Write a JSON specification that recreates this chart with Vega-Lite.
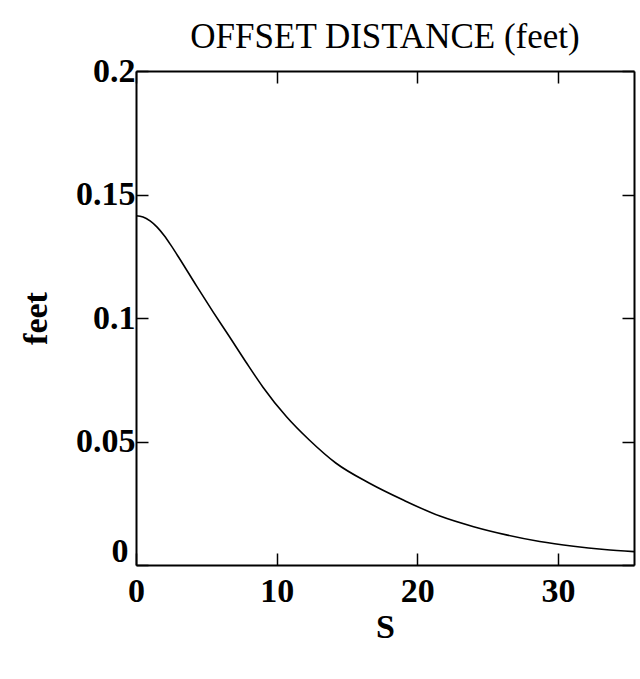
{
  "$schema": "https://vega.github.io/schema/vega-lite/v6.json",
  "width": 498,
  "height": 494,
  "autosize": "none",
  "padding": {"left": 136, "top": 71, "right": 6, "bottom": 114},
  "background": "white",
  "title": {"text": "OFFSET DISTANCE (feet)", "font": "Liberation Serif", "fontSize": 35, "fontWeight": "normal", "color": "black", "anchor": "middle", "offset": -1},
  "config": {"view": {"stroke": null}},
  "data": {"values": [
    {"s": 0, "v": 0.1414},
    {"s": 0.5, "v": 0.1409},
    {"s": 1.0, "v": 0.1393},
    {"s": 1.5, "v": 0.1368},
    {"s": 2.0, "v": 0.1334},
    {"s": 2.5, "v": 0.1293},
    {"s": 3.1, "v": 0.1240},
    {"s": 4.3, "v": 0.1130},
    {"s": 5.5, "v": 0.1023},
    {"s": 6.6, "v": 0.0928},
    {"s": 7.8, "v": 0.0823},
    {"s": 9.0, "v": 0.0722},
    {"s": 10.7, "v": 0.0600},
    {"s": 12.3, "v": 0.0507},
    {"s": 14.2, "v": 0.0413},
    {"s": 16.6, "v": 0.0331},
    {"s": 19.0, "v": 0.0263},
    {"s": 21.6, "v": 0.0198},
    {"s": 24.0, "v": 0.0155},
    {"s": 26.4, "v": 0.0121},
    {"s": 28.7, "v": 0.0095},
    {"s": 31.1, "v": 0.0076},
    {"s": 33.3, "v": 0.0063},
    {"s": 35.4, "v": 0.0054}
  ]},
  "layer": [
    {
      "mark": {"type": "line", "color": "black", "strokeWidth": 1.6, "interpolate": "monotone"},
      "encoding": {
        "x": {"field": "s", "type": "quantitative", "scale": {"domain": [0, 35.4], "nice": false, "zero": false},
          "axis": {"orient": "bottom", "values": [0, 10, 20, 30], "title": "S", "grid": false, "tickSize": -12, "tickWidth": 1.5, "tickColor": "black", "domainColor": "black", "domainWidth": 2, "labelFont": "Liberation Serif", "labelFontSize": 34, "labelFontWeight": "bold", "labelColor": "black", "labelPadding": 21, "labelFlush": false, "titleFont": "Liberation Serif", "titleFontSize": 34, "titleFontWeight": "bold", "titleColor": "black", "titlePadding": 2}},
        "y": {"field": "v", "type": "quantitative", "scale": {"domain": [0, 0.2], "nice": false},
          "axis": {"orient": "left", "values": [0, 0.05, 0.1, 0.15, 0.2], "labelExpr": "datum.value == 0 ? '0' : datum.value == 0.1 ? '0.1' : datum.value == 0.2 ? '0.2' : datum.label", "labelOffset": {"condition": {"test": "datum.value == 0", "value": -14}, "value": 0}, "labelPadding": {"condition": {"test": "datum.value == 0", "value": 20}, "value": 13}, "title": "feet", "grid": false, "tickSize": -12, "tickWidth": 1.5, "tickColor": "black", "domainColor": "black", "domainWidth": 2, "labelFont": "Liberation Serif", "labelFontSize": 34, "labelFontWeight": "bold", "labelColor": "black", "labelFlush": false, "titleFont": "Liberation Serif", "titleFontSize": 34, "titleFontWeight": "bold", "titleColor": "black", "titlePadding": 22}}
      }
    },
    {
      "mark": {"type": "line", "color": "black", "strokeWidth": 1.6, "interpolate": "monotone", "opacity": 0},
      "encoding": {
        "x": {"field": "s", "type": "quantitative",
          "axis": {"orient": "top", "values": [0, 10, 20, 30], "title": null, "labels": false, "grid": false, "tickSize": -12, "tickWidth": 1.5, "tickColor": "black", "domainColor": "black", "domainWidth": 2}},
        "y": {"field": "v", "type": "quantitative",
          "axis": {"orient": "right", "values": [0, 0.05, 0.1, 0.15, 0.2], "title": null, "labels": false, "grid": false, "tickSize": -12, "tickWidth": 1.5, "tickColor": "black", "domainColor": "black", "domainWidth": 2}}
      }
    }
  ],
  "resolve": {"axis": {"x": "independent", "y": "independent"}}
}
